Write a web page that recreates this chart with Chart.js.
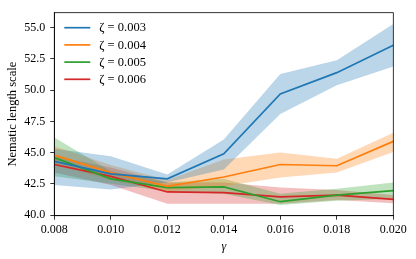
<!DOCTYPE html>
<html>
<head>
<meta charset="utf-8">
<script src="https://cdn.jsdelivr.net/npm/chart.js@4.4.0/dist/chart.umd.min.js"></script>
<style>
  html, body { margin: 0; padding: 0; background: #fff; }
  #wrap { width: 416px; height: 259px; }
</style>
</head>
<body>
<div id="wrap"><canvas id="chart"></canvas></div>
<script>
// gamma values on the x axis
const gammaVals = [0.008, 0.010, 0.012, 0.014, 0.016, 0.018, 0.020];
const xTicks = [0.008, 0.010, 0.012, 0.014, 0.016, 0.018, 0.020];
const yTicks = [40.0, 42.5, 45.0, 47.5, 50.0, 52.5, 55.0];

const zetaLabels = ['ζ = 0.003', 'ζ = 0.004', 'ζ = 0.005', 'ζ = 0.006'];

// mean nematic length scale
const z003 = [44.3, 43.3, 42.9, 44.9, 49.7, 51.4, 53.6];
const z004 = [44.8, 43.4, 42.3, 43.05, 44.05, 43.95, 45.9];
const z005 = [44.6, 42.9, 42.2, 42.25, 41.07, 41.6, 41.95];
const z006 = [44.05, 43.1, 41.85, 41.8, 41.46, 41.6, 41.25];

// shaded band (lower / upper)
const z003Lo = [42.4, 42.05, 42.6, 43.65, 48.1, 50.4, 51.9];
const z003Hi = [45.3, 44.7, 43.25, 46.05, 51.3, 52.4, 55.3];
const z004Lo = [44.0, 42.8, 41.9, 42.3, 43.0, 43.4, 45.05];
const z004Hi = [45.5, 44.0, 42.8, 44.45, 45.0, 44.5, 46.6];
const z005Lo = [43.1, 42.5, 41.9, 41.7, 40.8, 41.15, 41.3];
const z005Hi = [46.2, 43.5, 42.6, 42.9, 41.7, 42.1, 42.6];
const z006Lo = [43.4, 42.4, 40.9, 40.9, 40.9, 41.2, 40.95];
const z006Hi = [44.7, 43.8, 42.6, 42.6, 42.2, 42.0, 41.6];

const colors = ['#1f77b4', '#ff7f0e', '#2ca02c', '#d62728'];
const bands  = ['rgba(31,119,180,0.3)', 'rgba(255,127,14,0.3)', 'rgba(44,160,44,0.3)', 'rgba(214,39,40,0.3)'];

const means = [z003, z004, z005, z006];
const lows  = [z003Lo, z004Lo, z005Lo, z006Lo];
const highs = [z003Hi, z004Hi, z005Hi, z006Hi];

const pts = arr => arr.map((v, i) => ({ x: gammaVals[i], y: v }));
const FONT = "'Liberation Serif', serif";

const datasets = [];
means.forEach((m, i) => {
    datasets.push({ label: zetaLabels[i], data: pts(m), borderColor: colors[i], borderWidth: 1.7,
        pointRadius: 0, fill: false, order: 1 });
});
means.forEach((m, i) => {
    datasets.push({ label: 'hi' + i, data: pts(highs[i]), borderWidth: 0, pointRadius: 0,
        backgroundColor: bands[i], fill: '+1', order: 10 });
    datasets.push({ label: 'lo' + i, data: pts(lows[i]), borderWidth: 0, pointRadius: 0,
        fill: false, order: 10 });
});

// frame round the plot area + legend inside it
const framePlugin = {
    id: 'frame',
    afterDraw(chart) {
        const { ctx, chartArea: a } = chart;
        ctx.save();
        ctx.strokeStyle = '#000';
        ctx.lineWidth = 0.8;
        ctx.strokeRect(a.left, a.top, a.right - a.left, a.bottom - a.top);

        ctx.font = '12.5px ' + FONT;
        ctx.textBaseline = 'middle';
        zetaLabels.forEach((lab, i) => {
            const y = a.top + 15 + i * 17.2;
            ctx.strokeStyle = colors[i];
            ctx.lineWidth = 1.7;
            ctx.beginPath();
            ctx.moveTo(a.left + 10, y);
            ctx.lineTo(a.left + 36, y);
            ctx.stroke();
            ctx.fillStyle = '#000';
            ctx.fillText(lab, a.left + 45, y + 0.5);
        });
        ctx.restore();
    }
};

new Chart(document.getElementById('chart'), {
    type: 'line',
    data: { datasets: datasets },
    options: {
        responsive: true,
        maintainAspectRatio: false,
        animation: false,
        layout: { padding: { top: 12.7, right: 22.7, left: 0, bottom: 0 } },
        plugins: { legend: { display: false }, tooltip: { enabled: false } },
        scales: {
            x: {
                type: 'linear', min: 0.008, max: 0.020,
                afterBuildTicks: s => { s.ticks = xTicks.map(v => ({ value: v })); },
                afterFit: s => { s.height = 43.3; },
                ticks: { color: '#000', font: { family: FONT, size: 12 }, padding: 3,
                         maxRotation: 0, callback: v => v.toFixed(3) },
                grid: { drawOnChartArea: false, color: '#000', tickLength: 4, tickWidth: 0.8 },
                border: { color: '#000', width: 0.8 },
                title: { display: true, text: 'γ', color: '#000',
                         font: { family: FONT, size: 12, style: 'italic' }, padding: { top: 0, bottom: 5 } }
            },
            y: {
                min: 39.95, max: 56.2,
                afterBuildTicks: s => { s.ticks = yTicks.map(v => ({ value: v })); },
                afterFit: s => { s.width = 54.3; },
                ticks: { color: '#000', font: { family: FONT, size: 12 }, padding: 5,
                         callback: v => v.toFixed(1) },
                grid: { drawOnChartArea: false, color: '#000', tickLength: 4, tickWidth: 0.8 },
                border: { color: '#000', width: 0.8 },
                title: { display: true, text: 'Nematic length scale', color: '#000',
                         font: { family: FONT, size: 12.5 }, padding: { top: 5, bottom: 0 } }
            }
        }
    },
    plugins: [framePlugin]
});
</script>
</body>
</html>
